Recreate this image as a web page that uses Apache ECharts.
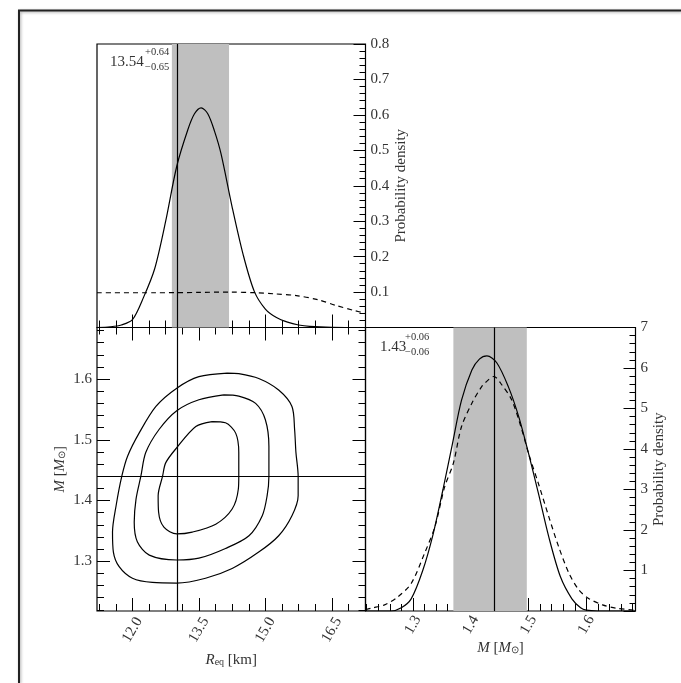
<!DOCTYPE html>
<html lang="en">
<head>
<meta charset="UTF-8">
<title>Corner plot</title>
<script src="https://cdn.jsdelivr.net/npm/echarts@6/dist/echarts.min.js"></script>
<style>
  html, body { margin: 0; padding: 0; background: #fff; }
  #main { width: 681px; height: 683px; }
</style>
</head>
<body>
<div id="main"></div>
<script>
// ---- values ----
const rLimits = [11.2, 17.26];
const mLimits = [1.218, 1.685];
const rTicks = [12.0, 13.5, 15.0, 16.5];
const rMinorTicks = [11.25, 11.625, 12.375, 12.75, 13.125, 13.875, 14.25, 14.625, 15.375, 15.75, 16.125, 16.875, 17.25];
const mTicks = [1.3, 1.4, 1.5, 1.6];
const mMinorTicks = [1.22, 1.24, 1.26, 1.28, 1.32, 1.34, 1.36, 1.38, 1.42, 1.44, 1.46, 1.48,
  1.52, 1.54, 1.56, 1.58, 1.62, 1.64, 1.66, 1.68];

const rTrue = 13.0;
const mTrue = 1.44;
const rBand = [12.89, 14.18];
const mBand = [1.37, 1.497];
const rSummary = ['13.54', '+0.64', '\u22120.65'];
const mSummary = ['1.43', '+0.06', '\u22120.06'];

// marginal of R: posterior (solid) and prior (dashed)
const rPosterior = [[11.2, 0], [11.5, 0.002], [11.75, 0.007], [12.0, 0.022], [12.25, 0.085], [12.5, 0.165],
  [12.75, 0.3], [13.0, 0.455], [13.25, 0.558], [13.4, 0.603], [13.55, 0.62], [13.7, 0.603], [13.85, 0.555],
  [14.0, 0.49], [14.25, 0.34], [14.5, 0.205], [14.75, 0.102], [15.0, 0.052], [15.25, 0.028], [15.5, 0.015],
  [15.75, 0.007], [16.0, 0.003], [16.5, 0.0005], [17.26, 0]];
const rPrior = [[11.2, 0.098], [12.5, 0.098], [13.5, 0.099], [14.2, 0.1], [14.8, 0.098], [15.2, 0.095],
  [15.7, 0.09], [16.2, 0.078], [16.6, 0.062], [17.0, 0.048], [17.26, 0.04]];

// marginal of M: posterior (solid) and prior (dashed)
const mPosterior = [[1.218, 0], [1.262, 0], [1.28, 0.08], [1.297, 0.3], [1.317, 1.0], [1.335, 1.9],
  [1.352, 3.0], [1.368, 4.1], [1.384, 5.2], [1.402, 5.95], [1.415, 6.22], [1.428, 6.3], [1.445, 6.13],
  [1.465, 5.54], [1.483, 4.8], [1.5, 3.89], [1.517, 2.91], [1.535, 1.83], [1.555, 0.85], [1.575, 0.3],
  [1.59, 0.08], [1.6, 0.02], [1.62, 0], [1.685, 0]];
const mPrior = [[1.218, 0.03], [1.228, 0.07], [1.251, 0.15], [1.274, 0.35], [1.297, 0.68], [1.32, 1.42],
  [1.338, 2.08], [1.355, 3.07], [1.37, 3.65], [1.384, 4.55], [1.402, 5.13], [1.419, 5.54], [1.43, 5.7],
  [1.44, 5.79], [1.454, 5.58], [1.471, 5.21], [1.4885, 4.47], [1.5, 3.89], [1.517, 3.15], [1.535, 2.33],
  [1.552, 1.59], [1.57, 0.93], [1.587, 0.52], [1.604, 0.31], [1.628, 0.15], [1.651, 0.07], [1.685, 0.02]];

// joint R-M credible contours (outer, middle, inner)
const contourOuter = [[14.14, 1.610], [13.5, 1.604], [13.0, 1.585], [12.53, 1.555], [12.15, 1.511],
  [11.89, 1.473], [11.76, 1.440], [11.63, 1.391], [11.55, 1.348], [11.57, 1.315], [11.7, 1.291],
  [12.0, 1.272], [12.45, 1.265], [13.0, 1.264], [13.65, 1.272], [14.25, 1.288], [14.85, 1.315],
  [15.3, 1.342], [15.6, 1.375], [15.74, 1.408], [15.74, 1.440], [15.69, 1.479], [15.66, 1.517],
  [15.6, 1.555], [15.3, 1.582], [14.85, 1.601], [14.4, 1.609], [14.14, 1.610]];
const contourMiddle = [[14.06, 1.574], [13.5, 1.566], [13.0, 1.548], [12.6, 1.517], [12.3, 1.479],
  [12.19, 1.440], [12.08, 1.402], [12.04, 1.364], [12.11, 1.332], [12.38, 1.310], [13.0, 1.302],
  [13.5, 1.305], [14.1, 1.321], [14.63, 1.342], [14.93, 1.375], [15.04, 1.408], [15.08, 1.440],
  [15.08, 1.489], [15.0, 1.533], [14.78, 1.560], [14.4, 1.572], [14.06, 1.574]];
const contourInner = [[13.8, 1.530], [13.43, 1.522], [13.0, 1.487], [12.75, 1.462], [12.68, 1.440],
  [12.58, 1.408], [12.59, 1.381], [12.71, 1.356], [13.0, 1.345], [13.35, 1.348], [13.88, 1.361],
  [14.25, 1.386], [14.39, 1.419], [14.4, 1.440], [14.4, 1.479], [14.33, 1.511], [14.1, 1.528], [13.8, 1.530]];

// ---- chart ----
var dom = document.getElementById('main');
var myChart = echarts.init(dom, null, { renderer: 'canvas' });

const FONT = 'Liberation Serif';
const INK = '#333';
const grids = [
  { left: 97, top: 44, width: 268.5, height: 283.5 },
  { left: 97, top: 327.5, width: 268.5, height: 283.5 },
  { left: 365.5, top: 327.5, width: 270, height: 283.5 }
];

function tickAxis(gridIndex, position, limits, values, len) {
  return {
    type: 'value', gridIndex: gridIndex, position: position,
    min: limits[0], max: limits[1],
    axisLine: { show: false },
    splitLine: { show: false },
    axisLabel: { show: false },
    axisTick: { show: true, inside: true, length: len, customValues: values,
      lineStyle: { color: '#000', width: 1 } }
  };
}

const nameRich = {
  it: { fontStyle: 'italic', fontFamily: FONT, fontSize: 15, color: INK },
  sub: { fontFamily: FONT, fontSize: 10, color: INK, verticalAlign: 'bottom' },
  txt: { fontFamily: FONT, fontSize: 15, color: INK }
};
const nameStyle = { fontFamily: FONT, fontSize: 15, color: INK, rich: nameRich, verticalAlign: 'middle', align: 'center' };
const labelStyle = { fontFamily: FONT, fontSize: 15, color: INK };

// labelled x axes
const rAxisLabelled = tickAxis(1, 'bottom', rLimits, rTicks, 13);
rAxisLabelled.axisLabel = Object.assign({ show: true, customValues: rTicks, rotate: 60, align: 'center',
  verticalAlign: 'middle', margin: 19, formatter: function (v) { return v.toFixed(1); } }, labelStyle);
rAxisLabelled.name = '{it|R}{sub|eq}{txt| [km]}';
rAxisLabelled.nameLocation = 'middle';
rAxisLabelled.nameGap = 49;
rAxisLabelled.nameTextStyle = nameStyle;

const mAxisLabelled = tickAxis(2, 'bottom', mLimits, mTicks, 13);
mAxisLabelled.axisLabel = Object.assign({ show: true, customValues: mTicks, rotate: 60, align: 'center',
  verticalAlign: 'middle', margin: 14, formatter: function (v) { return v.toFixed(1); } }, labelStyle);
mAxisLabelled.name = '{it|M}{txt| [}{it|M}{sub|\u2299}{txt|]}';
mAxisLabelled.nameLocation = 'middle';
mAxisLabelled.nameGap = 35;
mAxisLabelled.nameTextStyle = nameStyle;

const mYAxisLabelled = tickAxis(1, 'left', mLimits, mTicks, 13);
mYAxisLabelled.axisLabel = Object.assign({ show: true, customValues: mTicks, margin: 5,
  formatter: function (v) { return v.toFixed(1); } }, labelStyle);
mYAxisLabelled.name = '{it|M}{txt| [}{it|M}{sub|\u2299}{txt|]}';
mYAxisLabelled.nameLocation = 'middle';
mYAxisLabelled.nameRotate = 90;
mYAxisLabelled.nameGap = 37;
mYAxisLabelled.nameTextStyle = nameStyle;

function densityAxis(gridIndex, max, interval, digits, gap) {
  return {
    type: 'value', gridIndex: gridIndex, position: 'right', min: 0, max: max, interval: interval,
    axisLine: { show: false },
    splitLine: { show: false },
    axisTick: { show: true, inside: true, length: 12, lineStyle: { color: '#000', width: 1 } },
    minorTick: { show: true, splitNumber: 5, length: 6, lineStyle: { color: '#000', width: 1 } },
    axisLabel: Object.assign({ show: true, margin: 5, showMinLabel: false, showMaxLabel: true,
      formatter: function (v) { return v.toFixed(digits); } }, labelStyle),
    name: 'Probability density', nameLocation: 'middle', nameRotate: 90, nameGap: gap,
    nameTextStyle: nameStyle
  };
}

function curve(data, xi, yi, dashed) {
  return {
    type: 'line', xAxisIndex: xi, yAxisIndex: yi, data: data, showSymbol: false, symbol: 'none',
    smooth: 0.3, z: 5,
    lineStyle: { color: '#000', width: 1.2, type: dashed ? [5, 4] : 'solid' }
  };
}

// grey credible band behind a marginal
function band(xi, yi, range) {
  return {
    type: 'line', xAxisIndex: xi, yAxisIndex: yi, data: [], silent: true,
    markArea: { silent: true, itemStyle: { color: '#bfbfbf', opacity: 1 },
      data: [[{ xAxis: range[0] }, { xAxis: range[1] }]] }
  };
}

function guide(xi, yi, lines) {
  return {
    type: 'line', xAxisIndex: xi, yAxisIndex: yi, data: [], silent: true,
    markLine: { silent: true, symbol: 'none', label: { show: false }, animation: false,
      lineStyle: { color: '#000', width: 1.2, type: 'solid' }, data: lines }
  };
}

var option = {
  animation: false,
  grid: grids.map(function (g) {
    return Object.assign({ show: true, borderColor: '#000', borderWidth: 1.2,
      backgroundColor: 'transparent', outerBoundsMode: 'none' }, g);
  }),
  xAxis: [
    tickAxis(0, 'bottom', rLimits, rTicks, 13),
    tickAxis(0, 'bottom', rLimits, rMinorTicks, 7),
    rAxisLabelled,
    tickAxis(1, 'bottom', rLimits, rMinorTicks, 7),
    tickAxis(1, 'top', rLimits, rTicks, 13),
    tickAxis(1, 'top', rLimits, rMinorTicks, 7),
    mAxisLabelled,
    tickAxis(2, 'bottom', mLimits, mMinorTicks, 7)
  ],
  yAxis: [
    densityAxis(0, 0.8, 0.1, 1, 28),
    mYAxisLabelled,
    tickAxis(1, 'left', mLimits, mMinorTicks, 7),
    tickAxis(1, 'right', mLimits, mTicks, 13),
    tickAxis(1, 'right', mLimits, mMinorTicks, 7),
    densityAxis(2, 7, 1, 0, 20)
  ],
  series: [
    // top-left: R marginal
    band(0, 0, rBand),
    guide(0, 0, [{ xAxis: rTrue }]),
    curve(rPosterior, 0, 0, false),
    curve(rPrior, 0, 0, true),
    // bottom-left: joint contours
    guide(2, 1, [{ xAxis: rTrue }, { yAxis: mTrue }]),
    curve(contourOuter, 2, 1, false),
    curve(contourMiddle, 2, 1, false),
    curve(contourInner, 2, 1, false),
    // bottom-right: M marginal
    band(6, 5, mBand),
    guide(6, 5, [{ xAxis: mTrue }]),
    curve(mPosterior, 6, 5, false),
    curve(mPrior, 6, 5, true)
  ],
  graphic: [
    { type: 'polyline', z: 100, silent: true,
      shape: { points: [[19, 683], [19, 10.5], [681, 10.5]] },
      style: { stroke: '#222', lineWidth: 2, fill: null,
        shadowBlur: 3, shadowColor: 'rgba(0,0,0,0.35)', shadowOffsetX: 1, shadowOffsetY: 1 } },
    { type: 'text', x: 110, y: 62.5, z: 100, style: { text: rSummary[0], font: '15px ' + FONT, fill: INK, verticalAlign: 'middle' } },
    { type: 'text', x: 145, y: 52, z: 100, style: { text: rSummary[1], font: '10.5px ' + FONT, fill: INK, verticalAlign: 'middle' } },
    { type: 'text', x: 145, y: 67.5, z: 100, style: { text: rSummary[2], font: '10.5px ' + FONT, fill: INK, verticalAlign: 'middle' } },
    { type: 'text', x: 380, y: 347.5, z: 100, style: { text: mSummary[0], font: '15px ' + FONT, fill: INK, verticalAlign: 'middle' } },
    { type: 'text', x: 405, y: 337.5, z: 100, style: { text: mSummary[1], font: '10.5px ' + FONT, fill: INK, verticalAlign: 'middle' } },
    { type: 'text', x: 405, y: 352.5, z: 100, style: { text: mSummary[2], font: '10.5px ' + FONT, fill: INK, verticalAlign: 'middle' } }
  ]
};

if (option && typeof option === 'object') {
  myChart.setOption(option);
}

window.addEventListener('resize', myChart.resize);
</script>
</body>
</html>
